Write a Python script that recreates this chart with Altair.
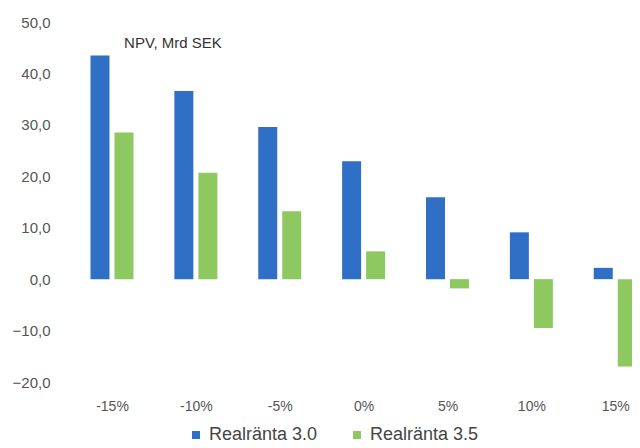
import altair as alt
import pandas as pd

scenarios = [-15, -10, -5, 0, 5, 10, 15]
realranta_30 = [43.5, 36.6, 29.6, 22.9, 15.9, 9.1, 2.2]
realranta_35 = [28.5, 20.7, 13.2, 5.4, -1.8, -9.5, -17.0]
series_names = ["Realränta 3.0", "Realränta 3.5"]
colors = ["#2F6FC6", "#8DC860"]
y_ticks = [-20, -10, 0, 10, 20, 30, 40, 50]

df = pd.DataFrame({
    "scen": scenarios * 2,
    "value": realranta_30 + realranta_35,
    "series": [series_names[0]] * len(scenarios) + [series_names[1]] * len(scenarios),
})

x = alt.X("scen:Q",
          scale=alt.Scale(domain=[-17.92, 15.70], nice=False, zero=False),
          axis=alt.Axis(values=scenarios, labelExpr="datum.value + '%'", title=None,
                        ticks=False, domain=False, grid=False, labelPadding=17,
                        labelFontSize=14, labelColor="#555555", labelFont="Liberation Sans"))
y = alt.Y("value:Q",
          scale=alt.Scale(domain=[-20, 50], nice=False),
          axis=alt.Axis(values=y_ticks, title=None, ticks=False, domain=False, grid=False,
                        labelExpr="replace(format(datum.value, '.1f'), '.', ',')",
                        labelPadding=8, labelFontSize=15, labelColor="#555555",
                        labelFont="Liberation Sans"))
color = alt.Color("series:N",
                  scale=alt.Scale(domain=series_names, range=colors),
                  legend=alt.Legend(title=None, orient="none", legendX=129, legendY=404,
                                    direction="horizontal", symbolType="square", symbolSize=64,
                                    labelFontSize=18, labelColor="#444444",
                                    labelFont="Liberation Sans", columnPadding=30,
                                    labelOffset=4, symbolStrokeWidth=0))

base = alt.Chart(df).encode(x=x, y=y, y2=alt.datum(0), color=color)
blue = base.transform_filter(alt.datum.series == series_names[0]).mark_bar(
    width=19, xOffset=-12, clip=True)
green = base.transform_filter(alt.datum.series == series_names[1]).mark_bar(
    width=19, xOffset=12, clip=True)

chart = alt.layer(blue, green).properties(
    width=574, height=360,
    autosize=alt.AutoSizeParams(type="none"),
    padding={"left": 50, "top": 14, "right": 0, "bottom": 66},
    title=alt.TitleParams("NPV, Mrd SEK", anchor="start", dx=112, dy=40, fontSize=15,
                          fontWeight="normal", color="#333333", font="Liberation Sans"),
).configure_view(stroke=None)

chart.save("out.html", embed_options={"renderer": "svg", "actions": False})
